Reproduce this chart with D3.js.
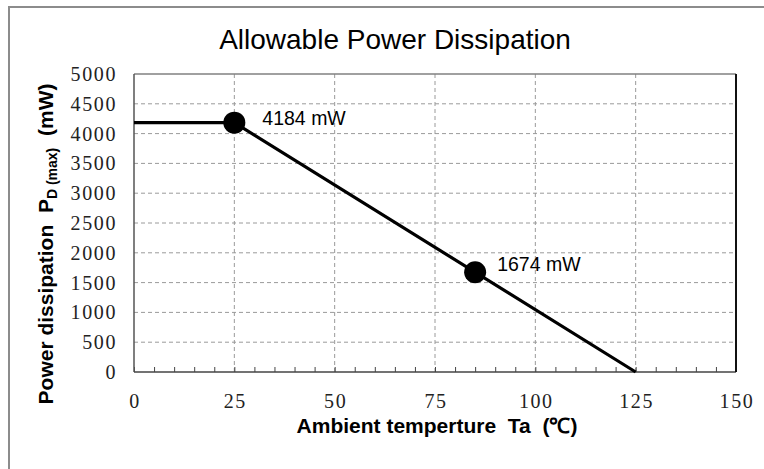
<!DOCTYPE html>
<html><head><meta charset="utf-8">
<script src="https://cdn.jsdelivr.net/npm/d3@7"></script>
<style>body{margin:0;background:#fff}svg{display:block}</style>
</head><body>
<script>
const temps = [0, 25, 125];
const power = [4184, 4184, 0];
const markerTemps = [25, 85];
const markerPower = [4184, 1674];
const markerLabels = ["4184 mW", "1674 mW"];
const xTicks = [0, 25, 50, 75, 100, 125, 150];
const yTicks = [0, 500, 1000, 1500, 2000, 2500, 3000, 3500, 4000, 4500, 5000];
const title = "Allowable Power Dissipation";

const W = 764, H = 469;
const m = {left: 134, right: 736, top: 74, bottom: 372};
const svg = d3.select("body").append("svg").attr("width", W).attr("height", H);
const sans = "Liberation Sans, Arial, sans-serif";
const serif = "Liberation Serif, serif";

// outer frame
svg.append("rect").attr("x", 9).attr("y", 7).attr("width", 800).attr("height", 500)
  .attr("fill", "none").attr("stroke", "#8c8c8c").attr("stroke-width", 2);

const x = d3.scaleLinear().domain([0, 150]).range([m.left, m.right]);
const y = d3.scaleLinear().domain([0, 5000]).range([m.bottom, m.top]);

svg.append("text").attr("x", 395).attr("y", 49).attr("text-anchor", "middle")
  .attr("font-family", sans).attr("font-size", 28).text(title);

// grid
const g = svg.append("g");
g.selectAll("line.h").data(yTicks.filter(d => d > 0 && d < 5000)).join("line")
  .attr("x1", m.left).attr("x2", m.right).attr("y1", d => y(d)).attr("y2", d => y(d))
  .attr("stroke", "#9a9a9a").attr("stroke-dasharray", "4,3");
g.selectAll("line.v").data(xTicks.filter(d => d > 0 && d < 150)).join("line")
  .attr("y1", m.top).attr("y2", m.bottom).attr("x1", d => x(d)).attr("x2", d => x(d))
  .attr("stroke", "#9a9a9a").attr("stroke-dasharray", "4,3");

// minor ticks on x
const xAxis = d3.axisBottom(x).tickValues(d3.range(0, 151, 5)).tickSize(-5).tickFormat("");
const xa = svg.append("g").attr("transform", `translate(0,${m.bottom})`).call(xAxis);
xa.select(".domain").remove();
xa.selectAll(".tick line").attr("stroke", "#444");

// frame
svg.append("line").attr("x1", m.left).attr("x2", m.right).attr("y1", m.top).attr("y2", m.top).attr("stroke", "#808080").attr("stroke-width", 1.5);
svg.append("line").attr("x1", m.left).attr("x2", m.left).attr("y1", m.top).attr("y2", m.bottom).attr("stroke", "#555").attr("stroke-width", 1.5);
svg.append("line").attr("x1", m.left).attr("x2", m.right).attr("y1", m.bottom).attr("y2", m.bottom).attr("stroke", "#444").attr("stroke-width", 1.5);
svg.append("line").attr("x1", m.right).attr("x2", m.right).attr("y1", m.top).attr("y2", m.bottom).attr("stroke", "#111").attr("stroke-width", 2);

// tick labels
svg.selectAll("text.xt").data(xTicks).join("text").attr("class", "xt")
  .attr("x", d => x(d) + 1).attr("y", 408).attr("text-anchor", "middle")
  .attr("font-family", serif).attr("font-size", 20).attr("letter-spacing", 1.6).attr("fill", "#222").text(d => d);
svg.selectAll("text.yt").data(yTicks).join("text").attr("class", "yt")
  .attr("x", 117).attr("y", d => y(d) + 7).attr("text-anchor", "end")
  .attr("font-family", serif).attr("font-size", 20).attr("letter-spacing", 1.6).attr("fill", "#222").text(d => d);

// line
const line = d3.line().x((d, i) => x(temps[i])).y((d, i) => y(power[i]));
svg.append("path").datum(temps).attr("d", line).attr("fill", "none").attr("stroke", "#000").attr("stroke-width", 3.2);

svg.selectAll("circle.mk").data(markerTemps).join("circle")
  .attr("cx", d => x(d)).attr("cy", (d, i) => y(markerPower[i])).attr("r", 11).attr("fill", "#000");
const ldx = [28, 22], ldy = [2.5, -1];
svg.selectAll("text.ml").data(markerLabels).join("text")
  .attr("x", (d, i) => x(markerTemps[i]) + ldx[i]).attr("y", (d, i) => y(markerPower[i]) + ldy[i])
  .attr("font-family", sans).attr("font-size", 19.5).text(d => d);

// axis titles
svg.append("text").attr("x", 437).attr("y", 433).attr("text-anchor", "middle")
  .attr("font-family", sans).attr("font-size", 21).attr("font-weight", "bold")
  .attr("xml:space", "preserve").text("Ambient temperture  Ta  (\u2103)");

const yl = svg.append("text").attr("transform", "translate(53,244) rotate(-90)").attr("text-anchor", "middle")
  .attr("font-family", sans).attr("font-size", 21).attr("font-weight", "bold")
  .attr("xml:space", "preserve");
yl.append("tspan").text("Power dissipation  P");
yl.append("tspan").attr("font-size", 14).attr("dy", 4).text("D (max)");
yl.append("tspan").attr("dy", -4).text("  (mW)");
</script>
</body></html>
